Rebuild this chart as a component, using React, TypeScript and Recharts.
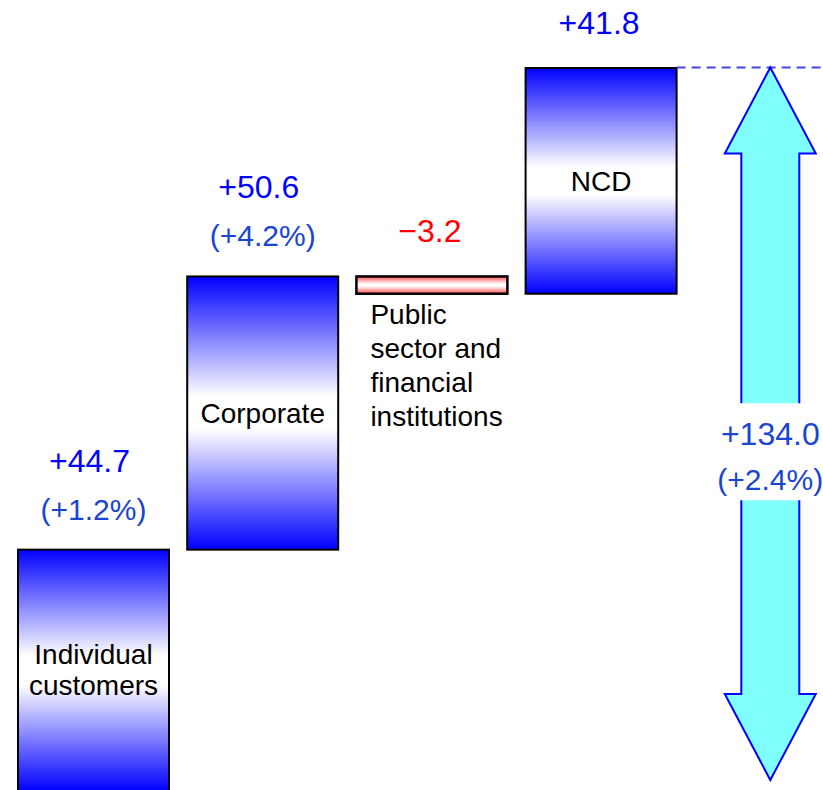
import React from 'react';
import { BarChart, Bar, XAxis, YAxis, LabelList } from 'recharts';

const categories = ['Individual customers', 'Corporate', 'Public sector and financial institutions', 'NCD', 'Total'];
const changes = [44.7, 50.6, -3.2, 41.8, 134.0];
const percents = ['+1.2%', '+4.2%', '', '', '+2.4%'];
const nameLines = [['Individual', 'customers'], ['Corporate'], ['Public', 'sector and', 'financial', 'institutions'], ['NCD'], []];

const W = 855;
const H = 790;
const ML = 9;
const BAR = 151;
const STEP = (W - ML) / categories.length;
const FONT = '"Liberation Sans", Arial, sans-serif';

type Row = { name: string; idx: number; change: number; range: [number, number]; kind: string };

const data: Row[] = (() => {
  const rows: Row[] = [];
  let cum = 0;
  for (let i = 0; i < categories.length - 1; i++) {
    const start = cum;
    const end = cum + changes[i];
    cum = end;
    rows.push({
      name: categories[i],
      idx: i,
      change: changes[i],
      range: [Math.min(start, end), Math.max(start, end)],
      kind: changes[i] >= 0 ? 'up' : 'down',
    });
  }
  const last = categories.length - 1;
  rows.push({ name: categories[last], idx: last, change: changes[last], range: [0, changes[last]], kind: 'total' });
  return rows;
})();

const fmt = (v: number) => (v >= 0 ? '+' + v.toFixed(1) : '\u2212' + Math.abs(v).toFixed(1));

function Shape(props: any) {
  const { x, y, width, height, payload } = props;
  const kind = payload.kind;
  const id = 'grad-' + payload.idx;
  if (kind === 'total') {
    const cx = x + width / 2;
    const top = y;
    const bot = y + height - 11;
    const HW = 45.5;
    const SW = 29;
    const HL = 86;
    const pts = [
      [cx, top], [cx + HW, top + HL], [cx + SW, top + HL], [cx + SW, bot - HL], [cx + HW, bot - HL],
      [cx, bot], [cx - HW, bot - HL], [cx - SW, bot - HL], [cx - SW, top + HL], [cx - HW, top + HL],
    ].map((p) => p.join(',')).join(' ');
    const lineX1 = cx - STEP + BAR / 2;
    return (
      <g>
        <line x1={lineX1} y1={top} x2={W} y2={top} stroke="#4545e0" strokeWidth={2} strokeDasharray="9 6" />
        <polygon points={pts} fill="#80ffff" stroke="#0000ff" strokeWidth={2} strokeLinejoin="miter" />
      </g>
    );
  }
  const edge = kind === 'down' ? '#ff5050' : '#0000ff';
  return (
    <g>
      <defs>
        <linearGradient id={id} x1="0" y1="0" x2="0" y2="1">
          <stop offset="0" stopColor={edge} />
          <stop offset="0.44" stopColor="#ffffff" />
          <stop offset="0.56" stopColor="#ffffff" />
          <stop offset="1" stopColor={edge} />
        </linearGradient>
      </defs>
      <rect x={x} y={y} width={width} height={height} fill={`url(#${id})`} stroke="#000000" strokeWidth={kind === 'down' ? 2.5 : 2} />
    </g>
  );
}

function ValueLabel(props: any) {
  const { x, y, width, height, value } = props;
  const i = value as number;
  const row = data[i];
  const cx = x + width / 2;
  const v = changes[i];
  const pct = percents[i];
  if (row.kind === 'total') {
    const mid = y + height / 2;
    return (
      <g>
        <rect x={cx - 31} y={mid - 26} width={62} height={97} fill="#ffffff" />
        <text x={cx} y={mid + 16} textAnchor="middle" fontFamily={FONT} fontSize={32} fill="#1a45d0">
          {fmt(v)}
        </text>
        <text x={cx} y={mid + 61} textAnchor="middle" fontFamily={FONT} fontSize={30} fill="#1a45d0">
          {`(${pct})`}
        </text>
      </g>
    );
  }
  const color = v >= 0 ? '#0000ff' : '#ff0000';
  if (pct) {
    return (
      <g>
        <text x={cx - 4} y={y - 78} textAnchor="middle" fontFamily={FONT} fontSize={32} fill={color}>
          {fmt(v)}
        </text>
        <text x={cx} y={y - 30} textAnchor="middle" fontFamily={FONT} fontSize={30} fill="#1a45d0">
          {`(${pct})`}
        </text>
      </g>
    );
  }
  return (
    <text x={cx - 2} y={y - 34} textAnchor="middle" fontFamily={FONT} fontSize={32} fill={color}>
      {fmt(v)}
    </text>
  );
}

function NameLabel(props: any) {
  const { x, y, width, height, value } = props;
  const i = value as number;
  const row = data[i];
  const lines = nameLines[i];
  if (!lines.length) return null;
  if (row.kind === 'down') {
    const lh = 34;
    return (
      <text x={x + 14} y={y + height + 30} fontFamily={FONT} fontSize={28} fill="#000000">
        {lines.map((l, k) => (
          <tspan key={k} x={x + 14} dy={k === 0 ? 0 : lh}>
            {l}
          </tspan>
        ))}
      </text>
    );
  }
  const lh = 31;
  const cx = x + width / 2;
  const visBottom = Math.min(y + height, H);
  const mid = (y + visBottom) / 2;
  const first = mid - ((lines.length - 1) * lh) / 2 + 10;
  return (
    <text x={cx} y={first} textAnchor="middle" fontFamily={FONT} fontSize={28} fill="#000000">
      {lines.map((l, k) => (
        <tspan key={k} x={cx} dy={k === 0 ? 0 : lh}>
          {l}
        </tspan>
      ))}
    </text>
  );
}

export default function App() {
  return (
    <div style={{ position: 'absolute', left: 0, top: 0, width: 823, height: 790, overflow: 'hidden', background: '#ffffff' }}>
      <BarChart width={W} height={H} data={data} margin={{ top: 0, right: 0, left: ML, bottom: 0 }} barSize={BAR}>
        <XAxis dataKey="name" hide />
        <YAxis type="number" hide domain={[0.185, 146.5]} allowDataOverflow />
        <Bar dataKey="range" isAnimationActive={false} shape={<Shape />}>
          <LabelList dataKey="idx" content={<NameLabel />} />
          <LabelList dataKey="idx" content={<ValueLabel />} />
        </Bar>
      </BarChart>
    </div>
  );
}
